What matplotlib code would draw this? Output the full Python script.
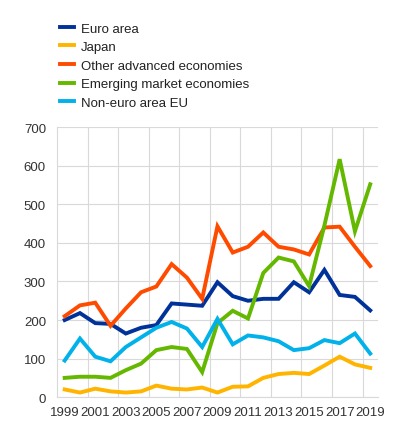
import matplotlib
matplotlib.use("Agg")
import matplotlib.pyplot as plt
import numpy as np

plt.rcParams['font.family'] = ['Liberation Sans', 'DejaVu Sans']

years = list(range(1999, 2020))
euro_area = [200, 218, 192, 190, 165, 180, 187, 243, 240, 237, 298, 262, 250, 255, 255, 298, 272, 330, 265, 260, 225]
japan = [20, 12, 22, 15, 12, 15, 30, 22, 20, 25, 12, 27, 28, 50, 60, 63, 60, 82, 105, 85, 76]
other_adv = [210, 238, 245, 185, 230, 272, 287, 345, 310, 255, 443, 375, 390, 427, 390, 383, 370, 440, 442, 390, 340]
emerging = [50, 53, 53, 50, 70, 87, 122, 130, 125, 65, 192, 224, 204, 322, 362, 352, 288, 445, 617, 430, 552]
non_euro_eu = [95, 152, 105, 93, 130, 155, 180, 195, 178, 130, 203, 137, 160, 155, 145, 122, 127, 148, 140, 165, 113]

series = [
    ("Euro area", euro_area, "#003299"),
    ("Japan", japan, "#FFB400"),
    ("Other advanced economies", other_adv, "#FF4B00"),
    ("Emerging market economies", emerging, "#65B800"),
    ("Non-euro area EU", non_euro_eu, "#00B1EA"),
]

fig = plt.figure(figsize=(3.99, 4.39), dpi=100)
ax = fig.add_axes([0.143, 0.093, 0.804, 0.615])

x = np.arange(len(years))
for label, vals, color in series:
    ax.plot(x, vals, color=color, lw=2.8, label=label, solid_joinstyle='miter')

ax.set_xlim(-0.5, len(years) - 0.5)
ax.set_ylim(0, 700)
ax.set_yticks(range(0, 701, 100))

# category labels every other year, grid between category pairs
ax.set_xticks(x[::2])
ax.set_xticklabels([str(y) for y in years[::2]])
ax.set_xticks(np.arange(1.5, len(years) - 1, 2), minor=True)
ax.grid(True, which='minor', axis='x', color='#d9d9d9', lw=0.8)
ax.grid(True, which='major', axis='y', color='#d9d9d9', lw=0.8)
ax.set_axisbelow(True)

for s in ['top', 'right']:
    ax.spines[s].set_visible(False)
for s in ['left', 'bottom']:
    ax.spines[s].set_color('#d9d9d9')
    ax.spines[s].set_linewidth(0.8)

ax.tick_params(axis='both', which='both', length=0, labelsize=9.5, colors='#333333')
ax.tick_params(axis='x', pad=6)
ax.tick_params(axis='y', pad=8)

fig.legend(loc='upper left', bbox_to_anchor=(0.135, 0.962), frameon=False,
           fontsize=9.5, handlelength=1.0, handletextpad=0.55,
           labelspacing=0.48, borderpad=0, labelcolor='#222222')

fig.savefig("out.png", dpi=100)
